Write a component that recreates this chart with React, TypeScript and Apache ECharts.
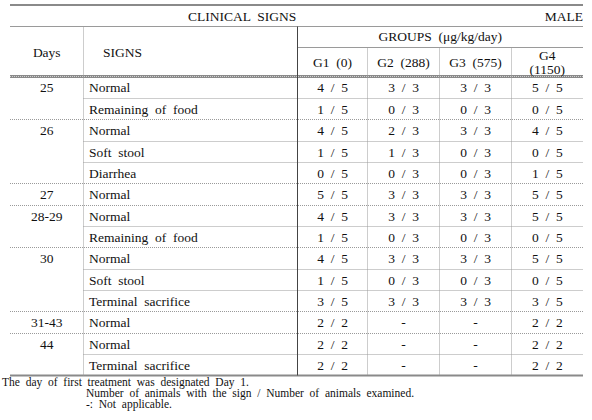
import React, { useEffect, useRef } from "react";
import * as echarts from "echarts";

const titleText = "CLINICAL  SIGNS";
const sexLabel = "MALE";
const groupsHeader = "GROUPS  (μg/kg/day)";
const headerDays = "Days";
const headerSigns = "SIGNS";
const groupNames = ["G1  (0)", "G2  (288)", "G3  (575)", "G4\n(1150)"];

const days = ["25", "", "26", "", "", "27", "28-29", "", "30", "", "", "31-43", "44", ""];
const signs = [
  "Normal", "Remaining  of  food", "Normal", "Soft  stool", "Diarrhea", "Normal", "Normal",
  "Remaining  of  food", "Normal", "Soft  stool", "Terminal  sacrifice", "Normal", "Normal", "Terminal  sacrifice",
];
const g1 = ["4 / 5", "1 / 5", "4 / 5", "1 / 5", "0 / 5", "5 / 5", "4 / 5", "1 / 5", "4 / 5", "1 / 5", "3 / 5", "2 / 2", "2 / 2", "2 / 2"];
const g2 = ["3 / 3", "0 / 3", "2 / 3", "1 / 3", "0 / 3", "3 / 3", "3 / 3", "0 / 3", "3 / 3", "0 / 3", "3 / 3", "-", "-", "-"];
const g3 = ["3 / 3", "0 / 3", "3 / 3", "0 / 3", "0 / 3", "3 / 3", "3 / 3", "0 / 3", "3 / 3", "0 / 3", "3 / 3", "-", "-", "-"];
const g4 = ["5 / 5", "0 / 5", "4 / 5", "0 / 5", "1 / 5", "5 / 5", "5 / 5", "0 / 5", "5 / 5", "0 / 5", "3 / 5", "2 / 2", "2 / 2", "2 / 2"];
const footnotes = [
  "The  day  of  first  treatment  was  designated  Day  1.",
  "Number  of  animals  with  the  sign  /  Number  of  animals  examined.",
  "-:  Not  applicable.",
];

const FONT = "Liberation Serif";

// widen word gaps like the reference (a collapsible space followed by a no-break space)
const wide = (s: string) => s.replace(/ {2}/g, " \u00a0").replace(/ \/ /g, " \u00a0/ \u00a0");

function txt(x: number, y: number, text: string, align: string, size = 13.5, extra: any = {}) {
  return {
    type: "text",
    x,
    y,
    silent: true,
    style: {
      text: wide(text),
      fill: "#111",
      fontFamily: FONT,
      fontSize: size,
      textAlign: align,
      align,
      textVerticalAlign: "middle",
      verticalAlign: "middle",
      ...extra,
    },
  };
}

function ln(x1: number, y1: number, x2: number, y2: number, stroke: string, lineWidth: number, dash?: number[]) {
  return {
    type: "line",
    silent: true,
    shape: { x1, y1, x2, y2 },
    style: { stroke, lineWidth, lineDash: dash || null },
  };
}

export default function App() {
  const ref = useRef<HTMLDivElement>(null);
  useEffect(() => {
    if (!ref.current) return;
    const chart = echarts.init(ref.current, null, { renderer: "svg" });

    const L = 10;
    const R = 583;
    const xDays = 83.5;
    const colX = [297.5, 367.5, 439.5, 511.5, 583];
    const yTop = 5;
    const yTitleLine = 26.5;
    const yGroupsLine = 47.5;
    const yHead = 76.5;
    const rowH = 21.35;
    const n = signs.length;
    const yBottom = yHead + n * rowH;
    const dotted = [1, 1];
    const dotColor = "#9a9a9a";

    const els: any[] = [];
    // horizontal rules
    els.push(ln(L, yTop, R, yTop, "#8a8a8a", 2));
    els.push(ln(L, yTitleLine, R, yTitleLine, "#9a9a9a", 1));
    els.push(ln(colX[0], yGroupsLine, R, yGroupsLine, "#9a9a9a", 1));
    for (let i = 1; i < n; i++) {
      const y = Math.round(yHead + i * rowH) + 0.5;
      const start = days[i] !== "" ? L : xDays;
      els.push(ln(start, y, R, y, dotColor, 1, dotted));
    }
    els.push(ln(L, yHead, R, yHead, "#8a8a8a", 3));
    els.push(ln(L, yHead, R, yHead, "#d0d0d0", 1, [1, 1]));
    els.push(ln(L, yBottom, R, yBottom, "#8a8a8a", 2));
    // vertical rules
    els.push(ln(xDays, yTitleLine, xDays, yBottom, dotColor, 1, dotted));
    for (let c = 1; c < 4; c++) {
      els.push(ln(colX[c], yGroupsLine, colX[c], yBottom, dotColor, 1, dotted));
    }
    els.push(ln(colX[0], yTitleLine, colX[0], yBottom, "#444", 1));

    // header texts
    els.push(txt(188, 16, titleText, "left"));
    els.push(txt(R, 16, sexLabel, "right"));
    els.push(txt((L + xDays) / 2, 52, headerDays, "center"));
    els.push(txt(103, 52, headerSigns, "left"));
    els.push(txt((colX[0] + R) / 2, 36, groupsHeader, "center"));
    groupNames.forEach((g, c) => {
      const cx = (colX[c] + colX[c + 1]) / 2;
      els.push(txt(cx, 62.5, g, "center", 13.5, { lineHeight: 13.5 }));
    });

    // body
    const groups = [g1, g2, g3, g4];
    for (let i = 0; i < n; i++) {
      const cy = yHead + (i + 0.5) * rowH + 0.8;
      if (days[i]) els.push(txt((L + xDays) / 2, cy, days[i], "center"));
      els.push(txt(89, cy, signs[i], "left"));
      groups.forEach((arr, c) => {
        const cx = (colX[c] + colX[c + 1]) / 2;
        els.push(txt(cx, cy, arr[i], "center"));
      });
    }

    // footnotes
    const fnOpts = { lineHeight: 11 };
    els.push(txt(2, 381.5, footnotes[0], "left", 11.5, fnOpts));
    els.push(txt(86, 392.5, footnotes[1], "left", 11.5, fnOpts));
    els.push(txt(86, 403.5, footnotes[2], "left", 11.5, fnOpts));

    chart.setOption({
      animation: false,
      backgroundColor: "#fff",
      graphic: { elements: els },
    });
    return () => chart.dispose();
  }, []);
  return (
    <div
      ref={ref}
      style={{ position: "fixed", left: 0, top: 0, width: 592, height: 420, background: "#fff" }}
    />
  );
}
